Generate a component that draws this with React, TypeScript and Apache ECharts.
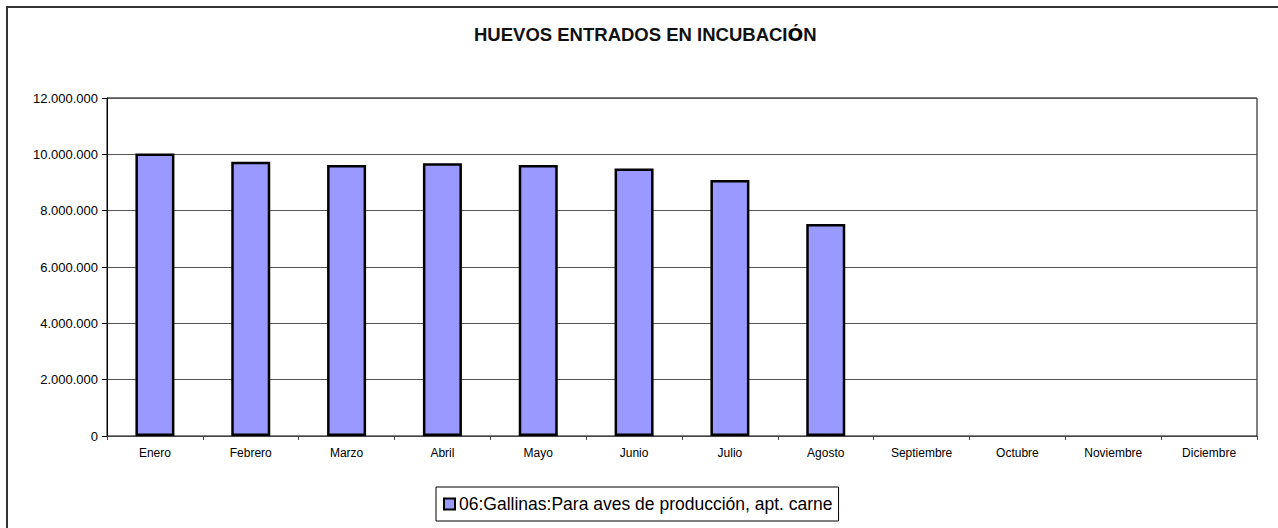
import React, { useEffect, useRef } from "react";
import * as echarts from "echarts";

const categories = [
  "Enero", "Febrero", "Marzo", "Abril", "Mayo", "Junio",
  "Julio", "Agosto", "Septiembre", "Octubre", "Noviembre", "Diciembre",
];
const seriesName = "06:Gallinas:Para aves de producción, apt. carne";
const values: (number | null)[] = [
  10030000, 9740000, 9620000, 9680000, 9620000, 9500000,
  9090000, 7530000, null, null, null, null,
];
const yTickLabels = ["0", "2.000.000", "4.000.000", "6.000.000", "8.000.000", "10.000.000", "12.000.000"];
const yStep = 2000000;
const titleText = "HUEVOS ENTRADOS EN INCUBACI{o|Ó}N";

const arial = "'Liberation Sans', Arial, sans-serif";

export default function App() {
  const ref = useRef<HTMLDivElement>(null);
  useEffect(() => {
    if (!ref.current) return;
    const chart = echarts.init(ref.current, undefined, { renderer: "svg" });
    chart.setOption({
      animation: false,
      backgroundColor: "#ffffff",
      graphic: [
        {
          type: "rect",
          shape: { x: 7, y: 7, width: 1320, height: 560 },
          style: { fill: "none", stroke: "#333", lineWidth: 2 },
          silent: true,
          z: -1,
        },
      ],
      title: {
        text: titleText,
        left: 474,
        top: 25,
        padding: 0,
        textStyle: {
          fontFamily: arial,
          fontSize: 18.5,
          fontWeight: "bold",
          color: "#111",
          rich: {
            o: { fontFamily: "'DejaVu Sans', sans-serif", fontWeight: "bold", fontSize: 18.5, color: "#000" },
          },
        },
      },
      legend: {
        data: [seriesName],
        left: 436,
        top: 487,
        padding: [8, 6, 8, 7],
        borderColor: "#000",
        borderWidth: 1,
        backgroundColor: "#fff",
        icon: "rect",
        itemWidth: 11,
        itemHeight: 11,
        itemGap: 4,
        itemStyle: { borderColor: "#000", borderWidth: 2 },
        textStyle: { fontFamily: arial, fontSize: 17.5, color: "#000", padding: [0, 0, 0, -1] },
      },
      grid: {
        left: 107,
        right: 21,
        top: 98,
        bottom: 92,
        show: true,
        borderColor: "#000",
        borderWidth: 1,
        backgroundColor: "transparent",
      },
      xAxis: {
        type: "category",
        data: categories,
        axisLine: { lineStyle: { color: "#444", width: 1 } },
        axisTick: { show: true, length: 4, lineStyle: { color: "#444" } },
        axisLabel: { fontFamily: arial, fontSize: 12, color: "#000", margin: 11, interval: 0 },
      },
      yAxis: {
        type: "value",
        min: 0,
        max: yStep * (yTickLabels.length - 1),
        interval: yStep,
        axisLine: { show: true, lineStyle: { color: "#000", width: 1 } },
        axisTick: { show: true, length: 5, lineStyle: { color: "#000" } },
        axisLabel: {
          fontFamily: arial,
          fontSize: 13,
          color: "#000",
          margin: 9,
          formatter: (v: number) => yTickLabels[Math.round(v / yStep)] ?? "",
        },
        splitLine: { show: true, lineStyle: { color: "#555", width: 1 } },
      },
      series: [
        {
          name: seriesName,
          type: "bar",
          data: values,
          barWidth: 39,
          itemStyle: { color: "#9999FF", borderColor: "#000", borderWidth: 2.5 },
        },
      ],
    });
    return () => chart.dispose();
  }, []);
  return <div ref={ref} style={{ position: "absolute", left: 0, top: 0, width: 1278, height: 528 }} />;
}
